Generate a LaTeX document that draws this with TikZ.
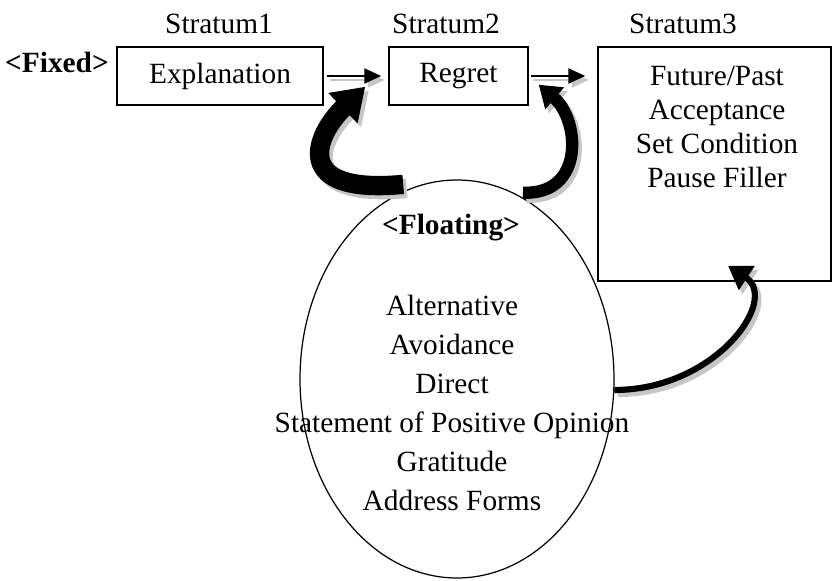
\documentclass[tikz,border=0pt]{standalone}
\usepackage{fontspec}
\setmainfont{Liberation Serif}
\usetikzlibrary{shapes.geometric, positioning, arrows.meta}

\tikzset{
  box/.style={draw, line width=0.8pt, minimum height=1.16cm, inner sep=0pt},
  tag/.style={font=\fontsize{16.7}{19.5}\selectfont\bfseries},
  flow/.style={-{Triangle[length=0.34cm, width=0.3cm]}, line width=1.2pt},
  shade/.style={gray!45, transform canvas={shift={(0.07,-0.08)}}},
}

\begin{document}
\begin{tikzpicture}[font=\fontsize{16.7}{19.5}\selectfont]
  \useasboundingbox (0,0) rectangle (16.66,11.6);

  % Stratum headings
  \node (st1) at (4.38,11.12) {Stratum1};
  \node (st2) at (8.92,11.12) {Stratum2};
  \node (st3) at (13.66,11.12) {Stratum3};
  \node[tag] (fixed) at (1.14,10.36) {<Fixed>};

  % Fixed strata
  \node[box, minimum width=4.12cm] (expl) at (4.4,10.08) {Explanation};
  \node[box, minimum width=2.78cm] (regret) at (9.17,10.08) {Regret};
  \node[box, minimum width=4.66cm, minimum height=4.68cm] (s3) at (14.29,8.32) {};
  \node[align=center] (s3text) at (14.34,9.06) {Future/Past\\Acceptance\\Set Condition\\Pause Filler};

  % Floating strata
  \node[draw, ellipse, line width=0.7pt, minimum width=6.28cm, minimum height=7.96cm] (floating) at (9.14,4.02) {};
  \node[tag] (floattag) at (9.02,7.04) {<Floating>};
  \node[align=center, font=\fontsize{16.7}{22.2}\selectfont] (floatlist) at (9.04,3.55) {Alternative\\Avoidance\\Direct\\Statement of Positive Opinion\\Gratitude\\Address Forms};

  % Straight arrows
  \draw[flow, shade] ([xshift=0.06cm]expl.east) -- ([xshift=-0.14cm]regret.west);
  \draw[flow] ([xshift=0.06cm]expl.east) -- ([xshift=-0.14cm]regret.west);
  \draw[flow, shade] ([xshift=0.04cm]regret.east) -- ([xshift=-0.24cm]regret.east -| s3.west);
  \draw[flow] ([xshift=0.04cm]regret.east) -- ([xshift=-0.24cm]regret.east -| s3.west);

  % Curved arrows
  \draw[shade, line width=11pt, -{Triangle[length=0.62cm, width=0.8cm]}] ([yshift=0.14cm]floating.106) .. controls (5.8,7.7) and (6.3,8.9) .. ([xshift=-0.46cm, yshift=0.38cm]regret.south west);
  \draw[line width=11pt, -{Triangle[length=0.62cm, width=0.8cm]}] ([yshift=0.14cm]floating.106) .. controls (5.8,7.7) and (6.3,8.9) .. ([xshift=-0.46cm, yshift=0.38cm]regret.south west);
  \draw[shade, line width=7pt, -{Triangle[length=0.42cm, width=0.55cm]}] ([yshift=0.1cm]floating.70) .. controls (11.7,7.7) and (11.6,9.2) .. ([xshift=0.2cm, yshift=0.42cm]regret.south east);
  \draw[line width=7pt, -{Triangle[length=0.42cm, width=0.55cm]}] ([yshift=0.1cm]floating.70) .. controls (11.7,7.7) and (11.6,9.2) .. ([xshift=0.2cm, yshift=0.42cm]regret.south east);
  \draw[shade, line width=3.5pt, -{Triangle[length=0.45cm, width=0.55cm]}] (floating.-4) .. controls (14.3,3.8) and (15.6,5.6) .. ([xshift=0.27cm, yshift=0.32cm]s3.south);
  \draw[line width=3.5pt, -{Triangle[length=0.45cm, width=0.55cm]}] (floating.-4) .. controls (14.3,3.8) and (15.6,5.6) .. ([xshift=0.27cm, yshift=0.32cm]s3.south);
\end{tikzpicture}
\end{document}
